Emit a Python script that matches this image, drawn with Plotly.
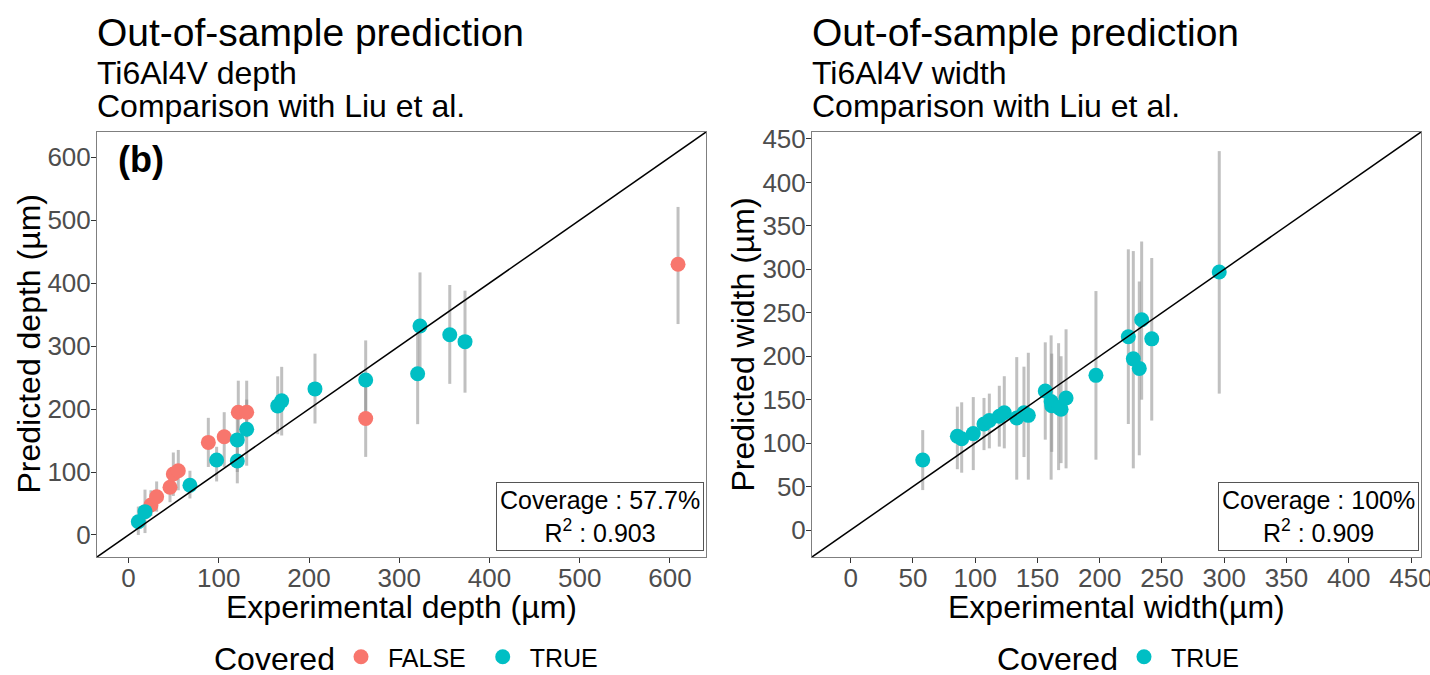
import numpy as np
import plotly.graph_objects as go

# ---------------- data ----------------
# Left panel: depth
depth_exp = [10.8, 18.2, 24.8, 31.1, 45.9, 49.6, 55.1, 68.0, 88.4, 97.6, 106.0, 120.5, 120.5,
             121.6, 130.9, 130.9, 165.3, 169.7, 206.6, 262.8, 262.8, 323.0, 320.4, 356.0, 372.9, 609.0]
depth_pred = [21, 37, 47.6, 60.8, 75.7, 96.9, 102, 79, 147, 119, 156, 151, 117.5,
              195, 195, 168, 205, 213, 232, 246, 185, 332, 256, 318, 307, 430]
depth_lo = [0, 3, 30, 37, 52, 62, 71, 58, 108, 85, 108, 100, 82,
            150, 155, 110, 160, 158, 177, 180, 124, 250, 176, 240, 226, 335]
depth_hi = [45, 72, 71, 85, 100, 131, 135, 102, 186, 140, 195, 205, 160,
            245, 245, 215, 252, 267, 288, 309, 250, 417, 335, 397, 388, 521]
depth_cov = [True, True, False, False, False, False, False, True, False, True, False, True, True,
             False, False, True, True, True, True, True, False, True, True, True, True, False]

# Right panel: width
width_exp = [57.9, 85.7, 89.2, 98.5, 107.1, 111.4, 119.4, 123.4, 133.4, 139.2, 142.7, 156.3,
             161.0, 161.5, 167.0, 169.0, 173.0, 197.0, 223.0, 227.0, 231.8, 233.7, 241.8, 296.0]
width_pred = [80.6, 108, 105, 111, 122, 126, 131, 135, 129, 135, 132, 160,
              148, 143, 141, 139, 152, 178, 222.5, 197, 186, 242, 220, 297]
width_lo = [46, 70, 66, 69, 92, 94, 96, 94, 58, 84, 58, 104,
            58, 90, 69, 77, 71, 81, 122, 71, 86, 150, 126, 157]
width_hi = [115, 142, 147, 153, 152, 157, 166, 177, 199, 188, 204, 216,
            224, 203, 215, 200, 231, 275, 323, 321, 286, 332, 313, 436]
width_cov = [True] * len(width_exp)

depth_range = [-35, 640]
width_range = [-31, 458]
depth_ticks = [0, 100, 200, 300, 400, 500, 600]
width_ticks = [0, 50, 100, 150, 200, 250, 300, 350, 400, 450]

depth_stats = ["Coverage : 57.7%", "R<sup>2</sup> : 0.903"]
width_stats = ["Coverage : 100%", "R<sup>2</sup> : 0.909"]

COL_FALSE = "#F8766D"
COL_TRUE = "#00BFC4"
FONT = "Liberation Sans, Arial, Helvetica, sans-serif"
NB = "\u00a0"
TH = "\u2009"

fig = go.Figure()


def add_panel(xs, ys, lo, hi, cov, xa, ya, legend, show_false):
    xs = np.array(xs, float)
    ys = np.array(ys, float)
    lo = np.array(lo, float)
    hi = np.array(hi, float)
    cov = np.array(cov, bool)
    fig.add_trace(go.Scatter(
        x=xs, y=ys, mode="markers", xaxis=xa, yaxis=ya,
        marker=dict(size=1, opacity=0), showlegend=False, hoverinfo="skip",
        error_y=dict(type="data", symmetric=False, array=hi - ys, arrayminus=ys - lo,
                     color="rgba(140,140,140,0.55)", thickness=3, width=0),
    ))
    if show_false:
        m = ~cov
        fig.add_trace(go.Scatter(
            x=xs[m], y=ys[m], mode="markers", xaxis=xa, yaxis=ya,
            name=NB + "FALSE" + NB + TH,
            legend=legend, marker=dict(size=15, color=COL_FALSE), showlegend=True))
    m = cov
    fig.add_trace(go.Scatter(
        x=xs[m], y=ys[m], mode="markers", xaxis=xa, yaxis=ya, name=NB + "TRUE",
        legend=legend, marker=dict(size=15, color=COL_TRUE), showlegend=True))


add_panel(depth_exp, depth_pred, depth_lo, depth_hi, depth_cov, "x", "y", "legend", True)
add_panel(width_exp, width_pred, width_lo, width_hi, width_cov, "x2", "y2", "legend2", False)

axis_common = dict(showline=True, mirror=True, linecolor="#7f7f7f", linewidth=1,
                   ticks="outside", ticklen=5, tickcolor="#333333", tickwidth=1,
                   showgrid=False, zeroline=False, automargin=False,
                   ticklabeloverflow="allow",
                   tickfont=dict(size=26, color="#4d4d4d", family=FONT))

L_DOM = [97 / 1430, 706 / 1430]
R_DOM = [812 / 1430, 1421 / 1430]
ydom = [118 / 675, 543 / 675]
fig.update_layout(
    width=1430, height=675,
    margin=dict(l=0, r=0, t=0, b=0, autoexpand=False),
    paper_bgcolor="white", plot_bgcolor="white",
    font=dict(family=FONT, color="black"),
    xaxis=dict(domain=L_DOM, range=depth_range, tickvals=depth_ticks, anchor="y",
               ticklabelstandoff=-7, **axis_common),
    yaxis=dict(domain=ydom, range=depth_range, tickvals=depth_ticks, anchor="x",
               ticklabelstandoff=-5, **axis_common),
    xaxis2=dict(domain=R_DOM, range=width_range, tickvals=width_ticks, anchor="y2",
                ticklabelstandoff=-7, **axis_common),
    yaxis2=dict(domain=ydom, range=width_range, tickvals=width_ticks, anchor="x2",
                ticklabelstandoff=-5, **axis_common),
    legend=dict(orientation="h", x=341 / 1430, xanchor="left", y=18 / 675, yanchor="middle",
                font=dict(size=25), bgcolor="rgba(0,0,0,0)", itemwidth=30),
    legend2=dict(orientation="h", x=1124 / 1430, xanchor="left", y=18 / 675, yanchor="middle",
                 font=dict(size=25), bgcolor="rgba(0,0,0,0)", itemwidth=30),
)

# legend titles
for xpix in (212, 995):
    fig.add_annotation(text="Covered", xref="paper", yref="paper", x=xpix / 1430,
                       y=1 - 659 / 675, xanchor="left", yanchor="middle", showarrow=False,
                       font=dict(size=32, color="black"))

# y = x reference lines
for xr, yr, rng in [("x", "y", depth_range), ("x2", "y2", width_range)]:
    fig.add_shape(type="line", xref=xr, yref=yr, x0=rng[0], y0=rng[0], x1=rng[1], y1=rng[1],
                  line=dict(color="black", width=1.5), layer="above")

# axis titles
axis_titles = [
    ("x domain", "Experimental depth (µm)"), ("x2 domain", "Experimental width(µm)"),
]
for xr, txt in axis_titles:
    fig.add_annotation(text=txt, xref=xr, yref="paper", x=0.5, y=1 - 607 / 675,
                       xanchor="center", yanchor="middle", showarrow=False,
                       font=dict(size=32, color="black"))
for xpix, yr, txt in [(28, "y domain", "Predicted depth (µm)"), (742, "y2 domain", "Predicted width (µm)")]:
    fig.add_annotation(text=txt, xref="paper", yref=yr, x=xpix / 1430, y=0.5,
                       xanchor="center", yanchor="middle", showarrow=False, textangle=-90,
                       font=dict(size=32, color="black"))

# titles
titles = [
    (95, ["Out-of-sample prediction", "Ti6Al4V depth", "Comparison with Liu et al."]),
    (810, ["Out-of-sample prediction", "Ti6Al4V width", "Comparison with Liu et al."]),
]
for xpix, lines in titles:
    for txt, ypix, size in zip(lines, [32, 73, 106], [39, 32, 32]):
        fig.add_annotation(text=txt, xref="paper", yref="paper", x=xpix / 1430,
                           y=1 - ypix / 675, xanchor="left", yanchor="middle",
                           showarrow=False, font=dict(size=size, color="black"))

# (b) tag
fig.add_annotation(text="<b>(b)</b>", xref="x domain", yref="y domain", x=0.031, y=0.935,
                   xanchor="left", yanchor="middle", showarrow=False,
                   font=dict(size=36, color="black"))

# stats boxes
for xr, yr, lines in [("x domain", "y domain", depth_stats), ("x2 domain", "y2 domain", width_stats)]:
    fig.add_annotation(text="<br>".join(lines), xref=xr, yref=yr, x=0.997, y=0.013,
                       xanchor="right", yanchor="bottom", showarrow=False, align="center",
                       font=dict(size=25, color="black"), bgcolor="white",
                       bordercolor="#555555", borderwidth=1, borderpad=3)

fig.write_html("out.html")
